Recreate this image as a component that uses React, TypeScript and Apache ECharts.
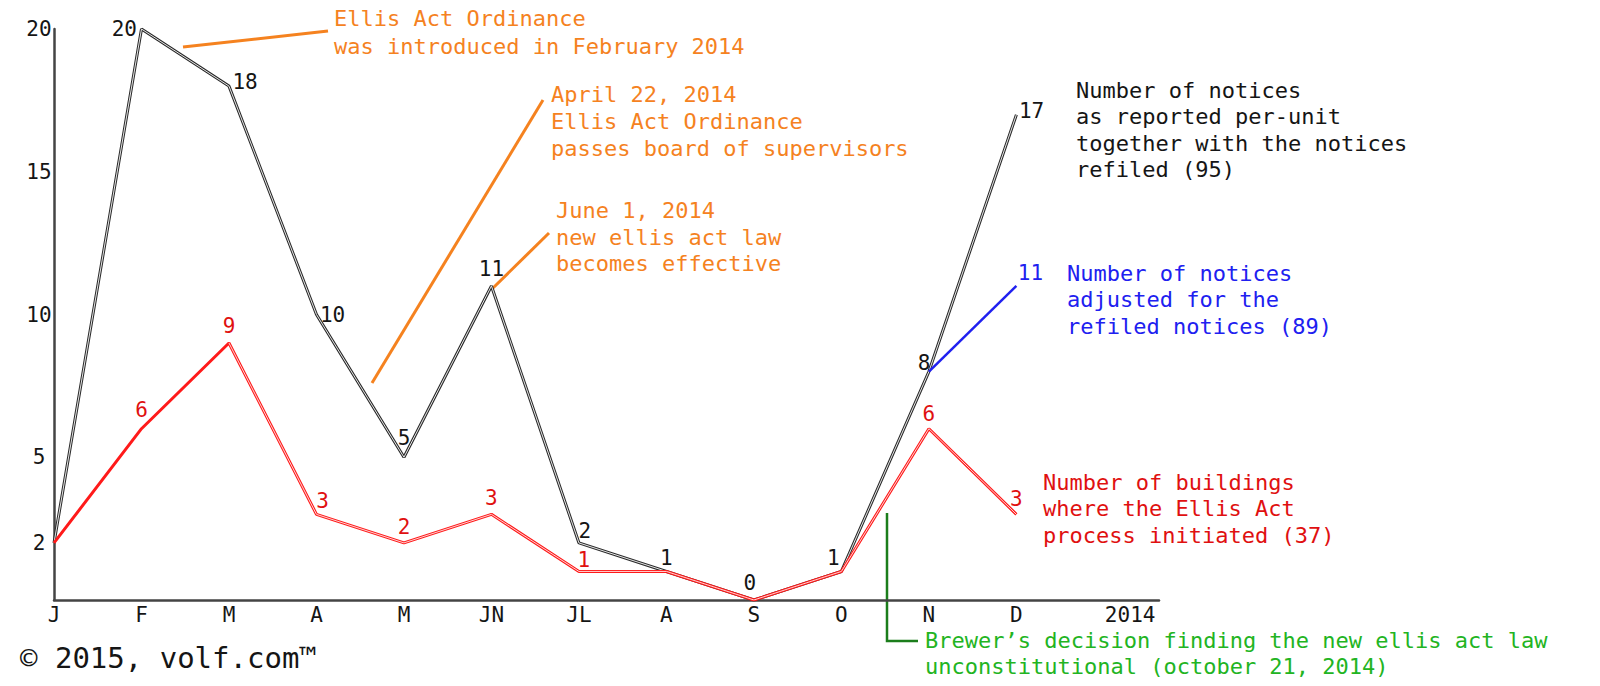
import React, { useEffect, useRef } from "react";
import * as echarts from "echarts";

// ---- data ----
const months = ["J", "F", "M", "A", "M", "JN", "JL", "A", "S", "O", "N", "D"];
const yearLabel = "2014";
const noticesReported = [2, 20, 18, 10, 5, 11, 2, 1, 0, 1, 8, 17];
const buildingsInitiated = [2, 6, 9, 3, 2, 3, 1, 1, 0, 1, 6, 3];
const noticesAdjusted: (number | null)[] = [null, null, null, null, null, null, null, null, null, null, 8, 11];
const yTickLabels = [2, 5, 10, 15, 20];

const FONT = '"DejaVu Sans Mono", "Liberation Mono", monospace';
const ORANGE = "#f5821f";
const RED = "#ff1a1a";
const RED_TEXT = "#e01010";
const BLUE = "#2020f0";
const GREEN_TEXT = "#22b422";
const GREEN_LINE = "#1b7d1b";
const INK = "#151515";

export default function App() {
  const ref = useRef<HTMLDivElement>(null);

  useEffect(() => {
    if (!ref.current) return;
    const chart = echarts.init(ref.current, undefined, { renderer: "svg" });

    const xMax = 12.63;
    const yearPos = 12.3;
    const xTickValues = [...months.map((_, i) => i), yearPos];
    const xTickLabels = [...months, yearLabel];

    const numLabel = (color: string) => ({
      show: true,
      color,
      fontFamily: FONT,
      fontSize: 21,
    });

    // label placement per point (style only)
    const blackPlace: any[] = [
      { show: false },
      { position: "left", distance: 4 },
      { position: "right", distance: 3, offset: [0, -4] },
      { position: "right", distance: 3 },
      { position: "top", distance: 8 },
      { position: "top", distance: 6 },
      { position: "right", distance: 1, offset: [-2, -12] },
      { position: "top", distance: 2 },
      { position: "top", distance: 6, offset: [-4, 0] },
      { position: "top", distance: 2, offset: [-8, 0] },
      { position: "left", distance: 0, offset: [2, -9] },
      { position: "right", distance: 2, offset: [0, -4] },
    ];
    const redPlace: any[] = [
      { show: false },
      { position: "top", distance: 8 },
      { position: "top", distance: 6 },
      { position: "top", distance: 2, offset: [6, 0] },
      { position: "top", distance: 5 },
      { position: "top", distance: 5 },
      { position: "top", distance: 0, offset: [5, 0] },
      { show: false },
      { show: false },
      { show: false },
      { position: "top", distance: 4 },
      { position: "top", distance: 4 },
    ];

    const blackData = noticesReported.map((v, i) => ({
      value: [i, v],
      label: { ...numLabel(INK), ...blackPlace[i] },
    }));
    const redData = buildingsInitiated.map((v, i) => ({
      value: [i, v],
      label: { ...numLabel(RED_TEXT), ...redPlace[i] },
    }));
    const redCore = buildingsInitiated
      .map((v, i) => (i >= 2 ? [i, v] : null))
      .filter((d) => d !== null);
    const blueData = noticesAdjusted
      .map((v, i) => (v === null ? null : { value: [i, v], label: i === 11 ? { ...numLabel(BLUE), position: "top", distance: 2, offset: [14, 0] } : { show: false } }))
      .filter((d) => d !== null);

    const hiddenSymbol = {
      symbol: "circle",
      symbolSize: 1,
      showSymbol: true,
      itemStyle: { color: "rgba(0,0,0,0)" },
    };

    const textBlock = (text: string, x: number, top: number, fill: string, lineHeight = 26.5, fontSize = 22) => ({
      type: "text",
      x,
      y: top,
      silent: true,
      style: {
        text,
        fill,
        fontFamily: FONT,
        fontSize,
        lineHeight,
        align: "left",
        verticalAlign: "top",
      },
    });

    const seg = (x1: number, y1: number, x2: number, y2: number, stroke: string, lineWidth = 3) => ({
      type: "line",
      silent: true,
      shape: { x1, y1, x2, y2 },
      style: { stroke, lineWidth },
    });

    chart.setOption({
      animation: false,
      backgroundColor: "#ffffff",
      grid: { left: 54, top: 29, right: 441, bottom: 86, containLabel: false },
      xAxis: {
        type: "value",
        min: 0,
        max: xMax,
        splitLine: { show: false },
        axisTick: { show: false },
        axisLine: { show: true, lineStyle: { color: "#444", width: 2.5 } },
        axisLabel: {
          customValues: xTickValues,
          margin: 4,
          color: INK,
          fontFamily: FONT,
          fontSize: 21,
          formatter: (val: number) => {
            const idx = xTickValues.findIndex((t) => Math.abs(t - val) < 1e-6);
            return idx >= 0 ? xTickLabels[idx] : "";
          },
        },
      },
      yAxis: {
        type: "value",
        min: 0,
        max: 20,
        splitLine: { show: false },
        axisTick: { show: false },
        axisLine: { show: true, lineStyle: { color: "#444", width: 2.5 } },
        axisLabel: {
          customValues: yTickLabels,
          margin: 15,
          align: "center",
          color: INK,
          fontFamily: FONT,
          fontSize: 21,
        },
      },
      series: [
        {
          name: "Notices reported",
          type: "line",
          data: blackData,
          ...hiddenSymbol,
          lineStyle: { color: "#2a2a2a", width: 3 },
          z: 2,
        },
        {
          name: "Notices reported core",
          type: "line",
          data: noticesReported.map((v, i) => [i, v]),
          symbol: "none",
          silent: true,
          lineStyle: { color: "#e6e6e6", width: 1 },
          z: 3,
        },
        {
          name: "Buildings",
          type: "line",
          data: redData,
          ...hiddenSymbol,
          lineStyle: { color: RED, width: 3 },
          z: 4,
        },
        {
          name: "Buildings core",
          type: "line",
          data: redCore,
          symbol: "none",
          silent: true,
          lineStyle: { color: "#ffd4d4", width: 1 },
          z: 5,
        },
        {
          name: "Notices adjusted",
          type: "line",
          data: blueData,
          ...hiddenSymbol,
          lineStyle: { color: BLUE, width: 2.5 },
          z: 6,
        },
      ],
      graphic: [
        seg(183, 47, 328, 31, ORANGE),
        seg(372, 383, 543, 100, ORANGE),
        seg(493, 288, 549, 233, ORANGE),
        textBlock("Ellis Act Ordinance\nwas introduced in February 2014", 334, 5, ORANGE, 27.5),
        textBlock("April 22, 2014\nEllis Act Ordinance\npasses board of supervisors", 551, 80.5, ORANGE, 27),
        textBlock("June 1, 2014\nnew ellis act law\nbecomes effective", 556, 197.5, ORANGE, 26.5),
        textBlock("Number of notices\nas reported per-unit\ntogether with the notices\nrefiled (95)", 1076, 77, INK, 26.5),
        textBlock("Number of notices\nadjusted for the\nrefiled notices (89)", 1067, 260, BLUE, 26.5),
        textBlock("Number of buildings\nwhere the Ellis Act\nprocess initiated (37)", 1043, 469, RED_TEXT, 26.5),
        {
          type: "polyline",
          silent: true,
          shape: { points: [[887, 513], [887, 641], [918, 641]] },
          style: { stroke: GREEN_LINE, lineWidth: 2.5, fill: "none" },
        },
        textBlock("Brewer’s decision finding the new ellis act law\nunconstitutional (october 21, 2014)", 925, 628, GREEN_TEXT, 25.5),
        textBlock("© 2015, volf.com™", 20, 643, INK, 30, 29),
      ],
    });

    return () => {
      chart.dispose();
    };
  }, []);

  return (
    <div
      ref={ref}
      style={{ position: "fixed", left: 0, top: 0, width: 1600, height: 686, background: "#fff" }}
    />
  );
}
